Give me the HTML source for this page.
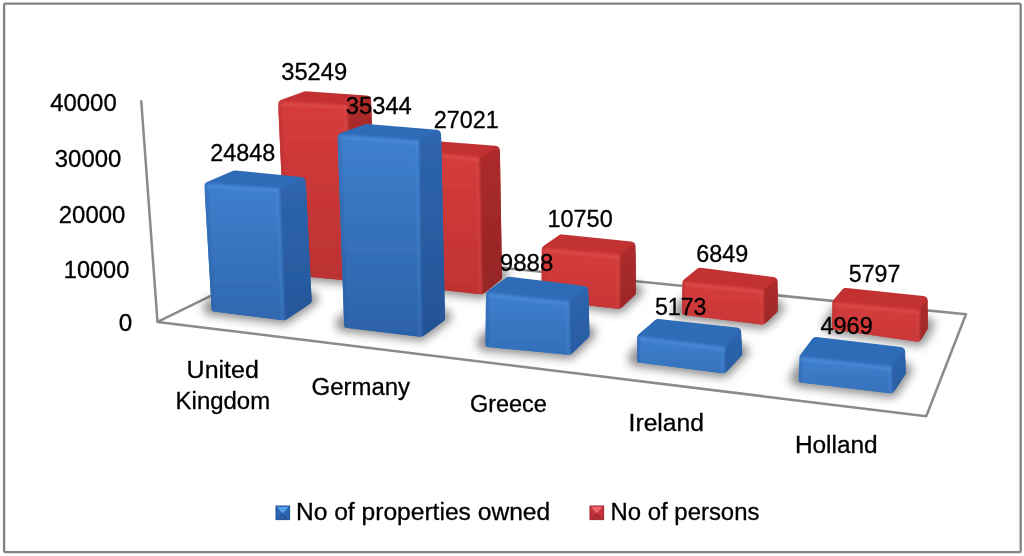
<!DOCTYPE html>
<html lang="en">
<head>
<meta charset="utf-8">
<title>Properties owned and persons by country</title>
<style>
html,body{margin:0;padding:0;background:#fff;}
body{width:1024px;height:556px;overflow:hidden;font-family:"Liberation Sans",sans-serif;}
svg{display:block;}
svg text{font-family:"Liberation Sans",sans-serif;fill:#000;stroke:#000;stroke-width:0.3px;}
</style>
</head>
<body>
<svg width="1024" height="556" viewBox="0 0 1024 556">
<defs>
<linearGradient id="bf" x1="0" y1="0" x2="0" y2="1"><stop offset="0" stop-color="#3f7fcd"/><stop offset="1" stop-color="#2d63a9"/></linearGradient>
<linearGradient id="bs" x1="0" y1="0" x2="0" y2="1"><stop offset="0" stop-color="#2e66ae"/><stop offset="1" stop-color="#245296"/></linearGradient>
<linearGradient id="rf" x1="0" y1="0" x2="0" y2="1"><stop offset="0" stop-color="#d63c3c"/><stop offset="1" stop-color="#bd3232"/></linearGradient>
<linearGradient id="rs" x1="0" y1="0" x2="0" y2="1"><stop offset="0" stop-color="#a92b2b"/><stop offset="1" stop-color="#932424"/></linearGradient>
<filter id="sh" x="-30%" y="-60%" width="160%" height="220%"><feGaussianBlur stdDeviation="5"/></filter>
<filter id="soft" x="-5%" y="-5%" width="110%" height="110%"><feGaussianBlur stdDeviation="0.6"/></filter>
<filter id="bev" filterUnits="userSpaceOnUse" x="0" y="0" width="1024" height="556"><feGaussianBlur stdDeviation="1.1"/></filter>
<filter id="soft2" filterUnits="userSpaceOnUse" x="0" y="0" width="1024" height="556"><feGaussianBlur stdDeviation="1"/></filter>
<mask id="m_r1" maskUnits="userSpaceOnUse" x="0" y="0" width="1024" height="556"><g fill="#fff" stroke="#fff" stroke-linejoin="round"><polygon points="283.16,104.43 305.22,96.36 366.13,100.48 370.91,265.07 350.96,275.88 290.80,270.04" stroke-width="10.00"/><polygon points="280.26,110.89 345.95,114.21 350.15,279.01 287.73,272.96" stroke-width="3.60"/><polygon points="349.54,113.74 369.51,106.35 374.17,266.94 353.72,278.02" stroke-width="3.60"/></g></mask>
<linearGradient id="gf_r1" gradientUnits="userSpaceOnUse" x1="0" y1="101.0" x2="0" y2="281.0"><stop offset="0" stop-color="#d63c3c"/><stop offset="1" stop-color="#bb3232"/></linearGradient>
<linearGradient id="gs_r1" gradientUnits="userSpaceOnUse" x1="0" y1="95.8" x2="0" y2="281.0"><stop offset="0" stop-color="#ae2c2c"/><stop offset="1" stop-color="#912323"/></linearGradient>
<mask id="m_r2" maskUnits="userSpaceOnUse" x="0" y="0" width="1024" height="556"><g fill="#fff" stroke="#fff" stroke-linejoin="round"><polygon points="417.10,153.30 436.68,146.36 494.88,150.65 496.96,276.39 480.98,289.30 420.87,282.52" stroke-width="10.00"/><polygon points="414.09,159.81 477.91,166.82 480.66,292.48 417.75,285.39" stroke-width="3.60"/><polygon points="481.50,166.25 498.18,157.02 500.19,277.90 484.22,290.80" stroke-width="3.60"/></g></mask>
<linearGradient id="gf_r2" gradientUnits="userSpaceOnUse" x1="0" y1="149.8" x2="0" y2="294.5"><stop offset="0" stop-color="#d63c3c"/><stop offset="1" stop-color="#be3333"/></linearGradient>
<linearGradient id="gs_r2" gradientUnits="userSpaceOnUse" x1="0" y1="146.0" x2="0" y2="294.5"><stop offset="0" stop-color="#ae2c2c"/><stop offset="1" stop-color="#942525"/></linearGradient>
<mask id="m_r3" maskUnits="userSpaceOnUse" x="0" y="0" width="1024" height="556"><g fill="#fff" stroke="#fff" stroke-linejoin="round"><polygon points="546.61,249.91 561.83,239.36 630.54,246.51 630.98,291.85 618.27,303.77 546.78,295.54" stroke-width="10.00"/><polygon points="543.44,257.26 618.20,263.65 618.20,306.98 543.59,298.39" stroke-width="3.60"/><polygon points="621.80,262.89 633.81,253.63 634.19,293.23 621.80,304.85" stroke-width="3.60"/></g></mask>
<linearGradient id="gf_r3" gradientUnits="userSpaceOnUse" x1="0" y1="247.3" x2="0" y2="309.0"><stop offset="0" stop-color="#d63c3c"/><stop offset="1" stop-color="#c63636"/></linearGradient>
<linearGradient id="gs_r3" gradientUnits="userSpaceOnUse" x1="0" y1="242.0" x2="0" y2="309.0"><stop offset="0" stop-color="#ae2c2c"/><stop offset="1" stop-color="#9d2727"/></linearGradient>
<mask id="m_r4" maskUnits="userSpaceOnUse" x="0" y="0" width="1024" height="556"><g fill="#fff" stroke="#fff" stroke-linejoin="round"><polygon points="687.20,283.36 700.01,272.83 772.70,282.01 772.70,309.30 762.22,319.55 687.20,310.37" stroke-width="10.00"/><polygon points="684.00,290.99 761.91,298.93 762.18,322.76 684.00,313.21" stroke-width="3.60"/><polygon points="765.50,298.13 775.90,289.45 775.90,310.64 765.75,320.57" stroke-width="3.60"/></g></mask>
<linearGradient id="gf_r4" gradientUnits="userSpaceOnUse" x1="0" y1="281.0" x2="0" y2="324.8"><stop offset="0" stop-color="#d63c3c"/><stop offset="1" stop-color="#c83737"/></linearGradient>
<linearGradient id="gs_r4" gradientUnits="userSpaceOnUse" x1="0" y1="277.6" x2="0" y2="324.8"><stop offset="0" stop-color="#ae2c2c"/><stop offset="1" stop-color="#9f2828"/></linearGradient>
<mask id="m_r5" maskUnits="userSpaceOnUse" x="0" y="0" width="1024" height="556"><g fill="#fff" stroke="#fff" stroke-linejoin="round"><polygon points="837.20,303.25 846.09,292.85 922.80,301.09 922.80,327.13 917.20,336.58 837.20,325.16" stroke-width="10.00"/><polygon points="834.00,311.38 918.00,319.34 918.00,339.92 834.00,327.94" stroke-width="3.60"/><polygon points="921.60,318.21 926.00,311.00 926.00,328.01 921.60,335.43" stroke-width="3.60"/></g></mask>
<linearGradient id="gf_r5" gradientUnits="userSpaceOnUse" x1="0" y1="301.4" x2="0" y2="342.0"><stop offset="0" stop-color="#d63c3c"/><stop offset="1" stop-color="#c83737"/></linearGradient>
<linearGradient id="gs_r5" gradientUnits="userSpaceOnUse" x1="0" y1="296.6" x2="0" y2="342.0"><stop offset="0" stop-color="#ae2c2c"/><stop offset="1" stop-color="#9f2828"/></linearGradient>
<mask id="m_b1" maskUnits="userSpaceOnUse" x="0" y="0" width="1024" height="556"><g fill="#fff" stroke="#fff" stroke-linejoin="round"><polygon points="209.40,186.24 235.26,175.40 300.72,182.04 306.62,299.93 283.77,315.30 216.50,306.81" stroke-width="10.00"/><polygon points="206.59,192.92 278.10,197.68 283.11,318.45 213.46,309.65" stroke-width="3.60"/><polygon points="281.68,197.19 304.23,188.10 309.90,301.57 286.66,317.21" stroke-width="3.60"/></g></mask>
<linearGradient id="gf_b1" gradientUnits="userSpaceOnUse" x1="0" y1="183.0" x2="0" y2="320.5"><stop offset="0" stop-color="#3f80ce"/><stop offset="1" stop-color="#3068b0"/></linearGradient>
<linearGradient id="gs_b1" gradientUnits="userSpaceOnUse" x1="0" y1="177.5" x2="0" y2="320.5"><stop offset="0" stop-color="#2e66ae"/><stop offset="1" stop-color="#26569b"/></linearGradient>
<mask id="m_b2" maskUnits="userSpaceOnUse" x="0" y="0" width="1024" height="556"><g fill="#fff" stroke="#fff" stroke-linejoin="round"><polygon points="342.62,137.76 367.17,128.88 436.10,134.80 439.95,317.52 420.63,331.80 349.10,323.06" stroke-width="10.00"/><polygon points="339.65,144.23 417.35,149.68 420.17,334.96 346.00,325.90" stroke-width="3.60"/><polygon points="420.94,149.16 439.43,140.94 443.18,319.11 423.75,333.47" stroke-width="3.60"/></g></mask>
<linearGradient id="gf_b2" gradientUnits="userSpaceOnUse" x1="0" y1="134.3" x2="0" y2="337.0"><stop offset="0" stop-color="#3f80ce"/><stop offset="1" stop-color="#2c62a8"/></linearGradient>
<linearGradient id="gs_b2" gradientUnits="userSpaceOnUse" x1="0" y1="130.2" x2="0" y2="337.0"><stop offset="0" stop-color="#2e66ae"/><stop offset="1" stop-color="#245296"/></linearGradient>
<mask id="m_b3" maskUnits="userSpaceOnUse" x="0" y="0" width="1024" height="556"><g fill="#fff" stroke="#fff" stroke-linejoin="round"><polygon points="490.98,294.86 508.86,281.80 583.40,290.84 584.45,334.44 568.67,349.80 490.54,342.26" stroke-width="10.00"/><polygon points="487.71,302.30 567.88,310.92 568.66,353.01 487.32,345.17" stroke-width="3.60"/><polygon points="571.47,310.16 586.78,298.05 587.68,335.76 572.22,350.81" stroke-width="3.60"/></g></mask>
<linearGradient id="gf_b3" gradientUnits="userSpaceOnUse" x1="0" y1="292.3" x2="0" y2="355.0"><stop offset="0" stop-color="#3f80ce"/><stop offset="1" stop-color="#346fb9"/></linearGradient>
<linearGradient id="gs_b3" gradientUnits="userSpaceOnUse" x1="0" y1="286.4" x2="0" y2="355.0"><stop offset="0" stop-color="#2e66ae"/><stop offset="1" stop-color="#285ba1"/></linearGradient>
<mask id="m_b4" maskUnits="userSpaceOnUse" x="0" y="0" width="1024" height="556"><g fill="#fff" stroke="#fff" stroke-linejoin="round"><polygon points="642.00,337.98 658.13,324.01 736.21,332.51 737.20,353.12 722.91,368.32 642.00,357.90" stroke-width="10.00"/><polygon points="638.80,345.73 723.00,356.09 723.00,371.55 638.80,360.72" stroke-width="3.60"/><polygon points="726.60,355.19 739.80,340.46 740.47,354.32 726.60,369.06" stroke-width="3.60"/></g></mask>
<linearGradient id="gf_b4" gradientUnits="userSpaceOnUse" x1="0" y1="335.7" x2="0" y2="373.6"><stop offset="0" stop-color="#3f80ce"/><stop offset="1" stop-color="#3672bc"/></linearGradient>
<linearGradient id="gs_b4" gradientUnits="userSpaceOnUse" x1="0" y1="328.0" x2="0" y2="373.6"><stop offset="0" stop-color="#2e66ae"/><stop offset="1" stop-color="#295da3"/></linearGradient>
<mask id="m_b5" maskUnits="userSpaceOnUse" x="0" y="0" width="1024" height="556"><g fill="#fff" stroke="#fff" stroke-linejoin="round"><polygon points="804.35,357.91 816.10,341.91 900.13,351.95 900.75,372.09 890.30,388.26 803.74,377.88" stroke-width="10.00"/><polygon points="800.89,366.19 890.02,375.62 890.89,391.56 800.45,380.71" stroke-width="3.60"/><polygon points="893.57,374.53 903.61,360.79 903.98,372.99 894.30,387.97" stroke-width="3.60"/></g></mask>
<linearGradient id="gf_b5" gradientUnits="userSpaceOnUse" x1="0" y1="356.2" x2="0" y2="393.6"><stop offset="0" stop-color="#3f80ce"/><stop offset="1" stop-color="#3672bc"/></linearGradient>
<linearGradient id="gs_b5" gradientUnits="userSpaceOnUse" x1="0" y1="347.5" x2="0" y2="393.6"><stop offset="0" stop-color="#2e66ae"/><stop offset="1" stop-color="#295da3"/></linearGradient>
</defs>
<rect x="0" y="0" width="1024" height="556" fill="#fff"/>
<rect x="4.1" y="3.7" width="1016.6" height="548.5" rx="1.2" fill="none" stroke="#828282" stroke-width="2.3"/>
<!-- floor + axis -->
<g fill="none" stroke="#8b8b8b" stroke-width="2.5" stroke-linejoin="round" stroke-linecap="round" filter="url(#soft)">
<polygon points="157.5,321.9 308.3,248.5 966,314.2 926.25,416.3"/>
<line x1="141.25" y1="101.25" x2="157.5" y2="321.75"/>
</g>
<g filter="url(#sh)">
<polygon points="286.00,274.60 352.00,281.00 376.00,268.00 310.00,261.60" fill="#000" opacity="0.44" stroke="#000" stroke-width="15" stroke-linejoin="round" transform="translate(-1.2,-3.6)"/>
<polygon points="416.00,287.00 482.50,294.50 502.00,278.75 435.50,271.25" fill="#000" opacity="0.44" stroke="#000" stroke-width="15" stroke-linejoin="round" transform="translate(-1.2,-3.6)"/>
<polygon points="541.80,300.00 620.00,309.00 636.00,294.00 557.80,285.00" fill="#000" opacity="0.44" stroke="#000" stroke-width="15" stroke-linejoin="round" transform="translate(-1.2,-3.6)"/>
<polygon points="682.20,314.80 764.00,324.80 777.70,311.40 695.90,301.40" fill="#000" opacity="0.44" stroke="#000" stroke-width="15" stroke-linejoin="round" transform="translate(-1.2,-3.6)"/>
<polygon points="832.20,329.50 919.80,342.00 927.80,328.50 840.20,316.00" fill="#000" opacity="0.44" stroke="#000" stroke-width="15" stroke-linejoin="round" transform="translate(-1.2,-3.6)"/>
</g>
<g filter="url(#soft)">
<g mask="url(#m_r1)"><g filter="url(#bev)">
<polygon points="269.74,95.51 303.35,83.20 378.79,88.31 384.14,272.69 353.66,289.20 278.33,281.89" fill="url(#gf_r1)"/>
<polygon points="347.50,104.50 380.38,92.33 378.79,88.31 384.14,272.69 353.66,289.20 352.25,291.00" fill="url(#gs_r1)"/>
<polygon points="268.01,100.50 269.74,95.51 303.35,83.20 378.79,88.31 380.38,92.33 347.50,104.50" fill="#c23333"/>
<polyline points="268.01,103.50 347.50,107.50" fill="none" stroke="#e25a5a" stroke-width="3" opacity="0.45"/>
<polyline points="345.30,106.50 350.05,291.00" fill="none" stroke="#e25a5a" stroke-width="2.4" opacity="0.3"/>
<polyline points="279.50,95.00 287.50,280.60" fill="none" stroke="#a52a2a" stroke-width="3" opacity="0.35"/>
</g></g>
<g mask="url(#m_r2)"><g filter="url(#bev)">
<polygon points="403.83,144.21 434.91,133.20 507.68,138.56 510.06,282.52 484.93,302.82 408.21,294.17" fill="url(#gf_r2)"/>
<polygon points="479.50,157.20 508.56,141.17 507.68,138.56 510.06,282.52 484.93,302.82 482.72,304.50" fill="url(#gs_r2)"/>
<polygon points="402.06,148.71 403.83,144.21 434.91,133.20 507.68,138.56 508.56,141.17 479.50,157.20" fill="#c23333"/>
<polyline points="402.06,151.71 479.50,160.20" fill="none" stroke="#e25a5a" stroke-width="3" opacity="0.45"/>
<polyline points="477.30,159.20 480.52,304.50" fill="none" stroke="#e25a5a" stroke-width="2.4" opacity="0.3"/>
<polyline points="413.50,143.80 417.50,293.00" fill="none" stroke="#a52a2a" stroke-width="3" opacity="0.35"/>
</g></g>
<g mask="url(#m_r3)"><g filter="url(#bev)">
<polygon points="533.58,243.12 558.38,225.94 643.43,234.78 644.03,297.43 622.77,317.37 533.83,307.14" fill="url(#gf_r3)"/>
<polygon points="620.00,254.00 643.41,235.88 643.43,234.78 644.03,297.43 622.77,317.37 620.00,319.00" fill="url(#gs_r3)"/>
<polygon points="531.64,246.45 533.58,243.12 558.38,225.94 643.43,234.78 643.41,235.88 620.00,254.00" fill="#c23333"/>
<polyline points="531.64,249.45 620.00,257.00" fill="none" stroke="#e25a5a" stroke-width="3" opacity="0.45"/>
<polyline points="617.80,256.00 617.80,319.00" fill="none" stroke="#e25a5a" stroke-width="2.4" opacity="0.3"/>
<polyline points="543.10,241.30 543.30,306.00" fill="none" stroke="#a52a2a" stroke-width="3" opacity="0.35"/>
</g></g>
<g mask="url(#m_r4)"><g filter="url(#bev)">
<polygon points="674.20,277.22 696.08,259.23 785.70,270.55 785.70,314.77 766.85,333.21 674.20,321.88" fill="url(#gf_r4)"/>
<polygon points="763.60,289.30 785.40,271.21 785.70,270.55 785.70,314.77 766.85,333.21 764.11,334.80" fill="url(#gs_r4)"/>
<polygon points="672.25,279.99 674.20,277.22 696.08,259.23 785.70,270.55 785.40,271.21 763.60,289.30" fill="#c23333"/>
<polyline points="672.25,282.99 763.60,292.30" fill="none" stroke="#e25a5a" stroke-width="3" opacity="0.45"/>
<polyline points="761.40,291.30 761.91,334.80" fill="none" stroke="#e25a5a" stroke-width="2.4" opacity="0.3"/>
<polyline points="683.70,275.00 683.70,320.80" fill="none" stroke="#a52a2a" stroke-width="3" opacity="0.35"/>
</g></g>
<g mask="url(#m_r5)"><g filter="url(#bev)">
<polygon points="824.20,298.45 840.66,279.20 935.80,289.41 935.80,330.69 923.96,350.67 824.20,336.44" fill="url(#gf_r5)"/>
<polygon points="919.80,309.70 933.01,288.07 935.80,289.41 935.80,330.69 923.96,350.67 919.80,352.00" fill="url(#gs_r5)"/>
<polygon points="822.24,300.46 824.20,298.45 840.66,279.20 935.80,289.41 933.01,288.07 919.80,309.70" fill="#c23333"/>
<polyline points="822.24,303.46 919.80,312.70" fill="none" stroke="#e25a5a" stroke-width="3" opacity="0.45"/>
<polyline points="917.60,311.70 917.60,352.00" fill="none" stroke="#e25a5a" stroke-width="2.4" opacity="0.3"/>
<polyline points="833.70,295.40 833.70,335.50" fill="none" stroke="#a52a2a" stroke-width="3" opacity="0.35"/>
</g></g>
</g>
<g filter="url(#sh)">
<polygon points="211.75,311.25 285.00,320.50 311.75,302.50 238.50,293.25" fill="#000" opacity="0.44" stroke="#000" stroke-width="15" stroke-linejoin="round" transform="translate(-1.2,-3.6)"/>
<polygon points="344.25,327.50 422.00,337.00 445.00,320.00 367.25,310.50" fill="#000" opacity="0.44" stroke="#000" stroke-width="15" stroke-linejoin="round" transform="translate(-1.2,-3.6)"/>
<polygon points="485.50,346.80 570.50,355.00 589.50,336.50 504.50,328.30" fill="#000" opacity="0.44" stroke="#000" stroke-width="15" stroke-linejoin="round" transform="translate(-1.2,-3.6)"/>
<polygon points="637.00,362.30 724.80,373.60 742.30,355.00 654.50,343.70" fill="#000" opacity="0.44" stroke="#000" stroke-width="15" stroke-linejoin="round" transform="translate(-1.2,-3.6)"/>
<polygon points="798.60,382.30 892.80,393.60 905.80,373.50 811.60,362.20" fill="#000" opacity="0.44" stroke="#000" stroke-width="15" stroke-linejoin="round" transform="translate(-1.2,-3.6)"/>
</g>
<g filter="url(#soft)">
<g mask="url(#m_b1)"><g filter="url(#bev)">
<polygon points="195.88,177.81 233.28,162.14 313.15,170.23 319.97,306.61 286.98,328.81 204.15,318.35" fill="url(#gf_b1)"/>
<polygon points="279.50,188.00 314.77,173.76 313.15,170.23 319.97,306.61 286.98,328.81 285.41,330.49" fill="url(#gs_b1)"/>
<polygon points="194.22,182.34 195.88,177.81 233.28,162.14 313.15,170.23 314.77,173.76 279.50,188.00" fill="#2e6cb8"/>
<polyline points="194.22,185.34 279.50,191.00" fill="none" stroke="#5795e0" stroke-width="3" opacity="0.45"/>
<polyline points="277.30,190.00 283.21,330.49" fill="none" stroke="#5795e0" stroke-width="2.4" opacity="0.3"/>
<polyline points="205.70,177.00 213.25,317.25" fill="none" stroke="#27589a" stroke-width="3" opacity="0.35"/>
</g></g>
<g mask="url(#m_b2)"><g filter="url(#bev)">
<polygon points="329.30,128.76 365.43,115.68 448.85,122.84 453.09,323.97 424.19,345.33 336.49,334.61" fill="url(#gf_b2)"/>
<polygon points="419.00,140.00 450.13,126.13 448.85,122.84 453.09,323.97 424.19,345.33 422.15,347.00" fill="url(#gs_b2)"/>
<polygon points="327.52,133.60 329.30,128.76 365.43,115.68 448.85,122.84 450.13,126.13 419.00,140.00" fill="#2e6cb8"/>
<polyline points="327.52,136.60 419.00,143.00" fill="none" stroke="#5795e0" stroke-width="3" opacity="0.45"/>
<polyline points="416.80,142.00 419.95,347.00" fill="none" stroke="#5795e0" stroke-width="2.4" opacity="0.3"/>
<polyline points="339.00,128.30 345.75,333.50" fill="none" stroke="#27589a" stroke-width="3" opacity="0.35"/>
</g></g>
<g mask="url(#m_b3)"><g filter="url(#bev)">
<polygon points="478.04,288.21 505.33,268.28 596.13,279.29 597.58,339.80 573.42,363.32 477.43,354.06" fill="url(#gf_b3)"/>
<polygon points="569.50,301.30 596.14,280.19 596.13,279.29 597.58,339.80 573.42,363.32 570.69,365.00" fill="url(#gs_b3)"/>
<polygon points="476.06,291.23 478.04,288.21 505.33,268.28 596.13,279.29 596.14,280.19 569.50,301.30" fill="#2e6cb8"/>
<polyline points="476.06,294.23 569.50,304.30" fill="none" stroke="#5795e0" stroke-width="3" opacity="0.45"/>
<polyline points="567.30,303.30 568.49,365.00" fill="none" stroke="#5795e0" stroke-width="2.4" opacity="0.3"/>
<polyline points="487.50,286.30 487.00,352.80" fill="none" stroke="#27589a" stroke-width="3" opacity="0.35"/>
</g></g>
<g mask="url(#m_b4)"><g filter="url(#bev)">
<polygon points="629.00,332.05 653.90,310.47 748.66,320.79 750.45,358.01 727.83,382.06 629.00,369.34" fill="url(#gf_b4)"/>
<polygon points="724.80,346.50 747.59,320.48 748.66,320.79 750.45,358.01 727.83,382.06 724.80,383.60" fill="url(#gs_b4)"/>
<polygon points="627.07,334.48 629.00,332.05 653.90,310.47 748.66,320.79 747.59,320.48 724.80,346.50" fill="#2e6cb8"/>
<polyline points="627.07,337.48 724.80,349.50" fill="none" stroke="#5795e0" stroke-width="3" opacity="0.45"/>
<polyline points="722.60,348.50 722.60,383.60" fill="none" stroke="#5795e0" stroke-width="2.4" opacity="0.3"/>
<polyline points="638.50,329.70 638.50,368.30" fill="none" stroke="#27589a" stroke-width="3" opacity="0.35"/>
</g></g>
<g mask="url(#m_b5)"><g filter="url(#bev)">
<polygon points="791.48,353.47 810.12,328.10 912.78,340.37 913.87,375.75 896.81,402.14 790.38,389.37" fill="url(#gf_b5)"/>
<polygon points="891.30,366.00 910.95,339.46 912.78,340.37 913.87,375.75 896.81,402.14 893.34,403.59" fill="url(#gs_b5)"/>
<polygon points="789.46,355.14 791.48,353.47 810.12,328.10 912.78,340.37 910.95,339.46 891.30,366.00" fill="#2e6cb8"/>
<polyline points="789.46,358.14 891.30,369.00" fill="none" stroke="#5795e0" stroke-width="3" opacity="0.45"/>
<polyline points="889.10,368.00 891.14,403.59" fill="none" stroke="#5795e0" stroke-width="2.4" opacity="0.3"/>
<polyline points="800.90,350.20 800.10,388.30" fill="none" stroke="#27589a" stroke-width="3" opacity="0.35"/>
</g></g>
</g>
<!-- legend markers -->
<g filter="url(#soft)">
<rect x="276" y="506" width="13.6" height="13.6" fill="#2d66b2" stroke="#23508f" stroke-width="1"/>
<polygon points="276.8,506.8 288.8,506.8 282.8,513.4" fill="#56a3ec"/>
<polygon points="276.8,518.8 288.8,518.8 282.8,513" fill="#27599f"/>
<rect x="590" y="506" width="13.6" height="13.6" fill="#c5333b" stroke="#9b2730" stroke-width="1"/>
<polygon points="590.8,506.8 602.8,506.8 596.8,513.4" fill="#f0666c"/>
<polygon points="590.8,518.8 602.8,518.8 596.8,513" fill="#a92a32"/>
</g>
<g>
<text x="50.2" y="111.0" font-size="23.2" text-anchor="start" textLength="66.5" lengthAdjust="spacingAndGlyphs">40000</text>
<text x="54.8" y="167.0" font-size="23.2" text-anchor="start" textLength="66.5" lengthAdjust="spacingAndGlyphs">30000</text>
<text x="58.8" y="222.8" font-size="23.2" text-anchor="start" textLength="66.5" lengthAdjust="spacingAndGlyphs">20000</text>
<text x="63.8" y="278.3" font-size="23.2" text-anchor="start" textLength="65.5" lengthAdjust="spacingAndGlyphs">10000</text>
<text x="118.8" y="330.5" font-size="23.2" text-anchor="start" textLength="13.5" lengthAdjust="spacingAndGlyphs">0</text>
<text x="281.2" y="79.5" font-size="23.2" text-anchor="start" textLength="66.0" lengthAdjust="spacingAndGlyphs">35249</text>
<text x="345.8" y="113.8" font-size="23.2" text-anchor="start" textLength="66.0" lengthAdjust="spacingAndGlyphs">35344</text>
<text x="433.8" y="128.0" font-size="23.2" text-anchor="start" textLength="65.0" lengthAdjust="spacingAndGlyphs">27021</text>
<text x="210.2" y="161.0" font-size="23.2" text-anchor="start" textLength="65.0" lengthAdjust="spacingAndGlyphs">24848</text>
<text x="499.8" y="271.2" font-size="23.2" text-anchor="start" textLength="53.5" lengthAdjust="spacingAndGlyphs">9888</text>
<text x="547.5" y="227.0" font-size="23.2" text-anchor="start" textLength="65.2" lengthAdjust="spacingAndGlyphs">10750</text>
<text x="696.2" y="261.5" font-size="23.2" text-anchor="start" textLength="52.0" lengthAdjust="spacingAndGlyphs">6849</text>
<text x="655.0" y="315.0" font-size="23.2" text-anchor="start" textLength="51.5" lengthAdjust="spacingAndGlyphs">5173</text>
<text x="848.8" y="281.5" font-size="23.2" text-anchor="start" textLength="51.5" lengthAdjust="spacingAndGlyphs">5797</text>
<text x="820.5" y="334.0" font-size="23.2" text-anchor="start" textLength="52.2" lengthAdjust="spacingAndGlyphs">4969</text>
<text x="186.6" y="377.6" font-size="23.3" text-anchor="start" textLength="72.3" lengthAdjust="spacingAndGlyphs">United</text>
<text x="175.6" y="409.4" font-size="23.3" text-anchor="start" textLength="94.5" lengthAdjust="spacingAndGlyphs">Kingdom</text>
<text x="311.6" y="395.1" font-size="23.3" text-anchor="start" textLength="98.5" lengthAdjust="spacingAndGlyphs">Germany</text>
<text x="469.9" y="411.9" font-size="23.3" text-anchor="start" textLength="77.0" lengthAdjust="spacingAndGlyphs">Greece</text>
<text x="628.6" y="430.9" font-size="23.3" text-anchor="start" textLength="75.3" lengthAdjust="spacingAndGlyphs">Ireland</text>
<text x="794.9" y="452.6" font-size="23.3" text-anchor="start" textLength="82.8" lengthAdjust="spacingAndGlyphs">Holland</text>
<text x="295.9" y="520.0" font-size="23.3" text-anchor="start" textLength="254.3" lengthAdjust="spacingAndGlyphs">No of properties owned</text>
<text x="610.6" y="520.0" font-size="23.3" text-anchor="start" textLength="148.8" lengthAdjust="spacingAndGlyphs">No of persons</text>
</g>
</svg>
</body>
</html>
